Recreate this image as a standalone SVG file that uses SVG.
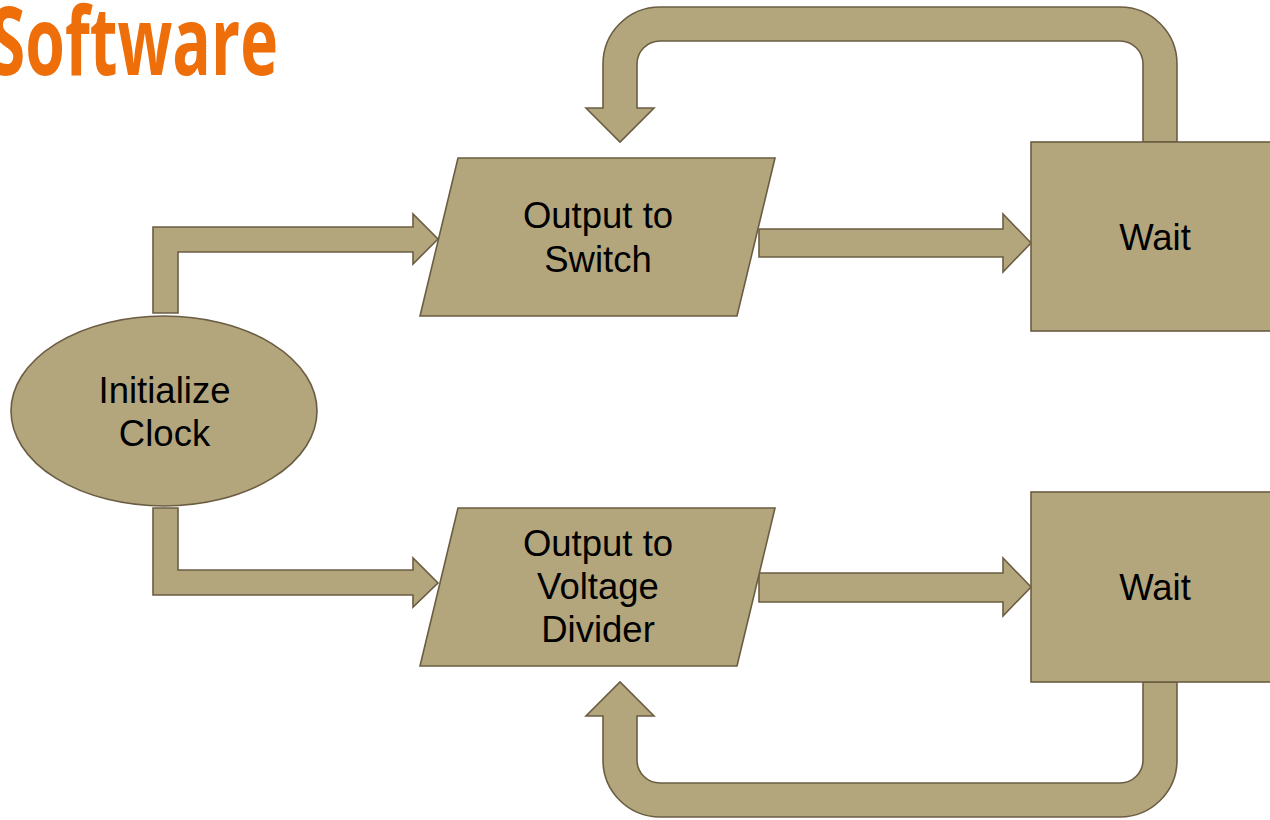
<svg xmlns="http://www.w3.org/2000/svg" width="1270" height="820" viewBox="0 0 1270 820">
<style>
.shape{fill:#b3a67d;stroke:#6b5d43;stroke-width:1.6;stroke-linejoin:miter}
.lbl{font-family:"Liberation Sans",Arial,sans-serif;font-size:36.5px;fill:#000;text-anchor:middle}
.title{font-family:"Open Sans","Liberation Sans",sans-serif;font-weight:bold;font-size:95px;fill:#ee6e0a}
</style>
<rect width="1270" height="820" fill="#fff"/>
<text class="title" x="-10" y="75" textLength="288" lengthAdjust="spacingAndGlyphs">Software</text>
<g id="connectors">
<polygon class="shape" points="153,313 153,227 413,227 413,214 438,239 413,264 413,252 178,252 178,313"/>
<polygon class="shape" points="153,508 178,508 178,570 413,570 413,558 438,583 413,607 413,595 153,595"/>
<polygon class="shape" points="759,229 1003,229 1003,214 1031,243 1003,272 1003,257 759,257"/>
<polygon class="shape" points="759,573 1003,573 1003,558 1031,587 1003,616 1003,602 759,602"/>
<path class="shape" d="M1177,142 L1177,64 A57,57 0 0 0 1120,7 L660,7 A57,57 0 0 0 603,64 L603,108 L586,108 L620,142 L654,108 L637,108 L637,64 A23,23 0 0 1 660,41 L1120,41 A23,23 0 0 1 1143,64 L1143,142 Z"/>
<path class="shape" d="M1143,682 L1143,760 A23,23 0 0 1 1120,783 L660,783 A23,23 0 0 1 637,760 L637,716 L654,716 L620,682 L586,716 L603,716 L603,760 A57,57 0 0 0 660,817 L1120,817 A57,57 0 0 0 1177,760 L1177,682 Z"/>
</g>
<g id="init">
<ellipse class="shape" cx="164" cy="411" rx="153" ry="95"/>
<text class="lbl" x="164.5" y="403">Initialize</text>
<text class="lbl" x="164.5" y="446">Clock</text>
</g>
<g id="out-switch">
<polygon class="shape" points="458,158 775,158 737,316 420,316"/>
<text class="lbl" x="598" y="228">Output to</text>
<text class="lbl" x="598" y="272">Switch</text>
</g>
<g id="out-divider">
<polygon class="shape" points="458,508 775,508 737,666 420,666"/>
<text class="lbl" x="598" y="556">Output to</text>
<text class="lbl" x="598" y="599">Voltage</text>
<text class="lbl" x="598" y="642">Divider</text>
</g>
<g id="wait1">
<rect class="shape" x="1031" y="142" width="260" height="189"/>
<text class="lbl" x="1155" y="250">Wait</text>
</g>
<g id="wait2">
<rect class="shape" x="1031" y="492" width="260" height="190"/>
<text class="lbl" x="1155" y="600">Wait</text>
</g>
</svg>
